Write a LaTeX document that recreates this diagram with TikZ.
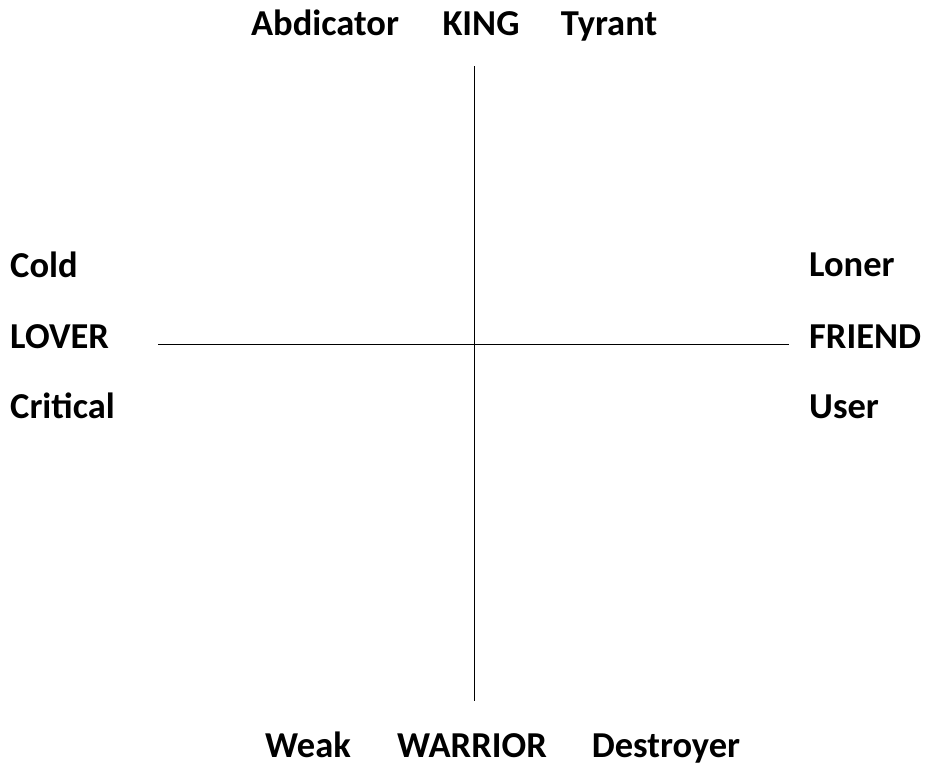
\documentclass[tikz,border=0pt]{standalone}
\usepackage{fontspec}
\setmainfont{Carlito}
\begin{document}
\begin{tikzpicture}[x=1pt,y=-1pt,
  lbl/.style={inner sep=0pt, anchor=base west, font=\fontsize{36.5}{40}\selectfont\bfseries},
  clbl/.style={lbl, anchor=base},
  axis/.style={draw=black, line width=0.9pt}]
\useasboundingbox (0,0) rectangle (927,766);
% top
\node[clbl] (abd) at (325,35) {Abdicator};
\node[clbl] (king) at (481,35) {KING};
\node[clbl] (tyr) at (609,35) {Tyrant};
% left
\node[lbl] (cold) at (10,277) {Cold};
\node[lbl] (lover) at (10,348) {LOVER};
\node[lbl] (crit) at (10,418) {Critical};
% right
\node[lbl] (loner) at (809,276) {Loner};
\node[lbl] (friend) at (809,348) {FRIEND};
\node[lbl] (user) at (809,418) {User};
% bottom
\node[clbl] (weak) at (308,757) {Weak};
\node[clbl] (war) at (472,757) {WARRIOR};
\node[clbl] (des) at (666,757) {Destroyer};
% axes
\coordinate (vt) at (474,66);
\coordinate (vb) at (474,701);
\coordinate (hl) at (158,344);
\coordinate (hr) at (789,344);
\draw[axis] (vt) -- (vb);
\draw[axis] (hl) -- (hr);
\end{tikzpicture}
\end{document}
